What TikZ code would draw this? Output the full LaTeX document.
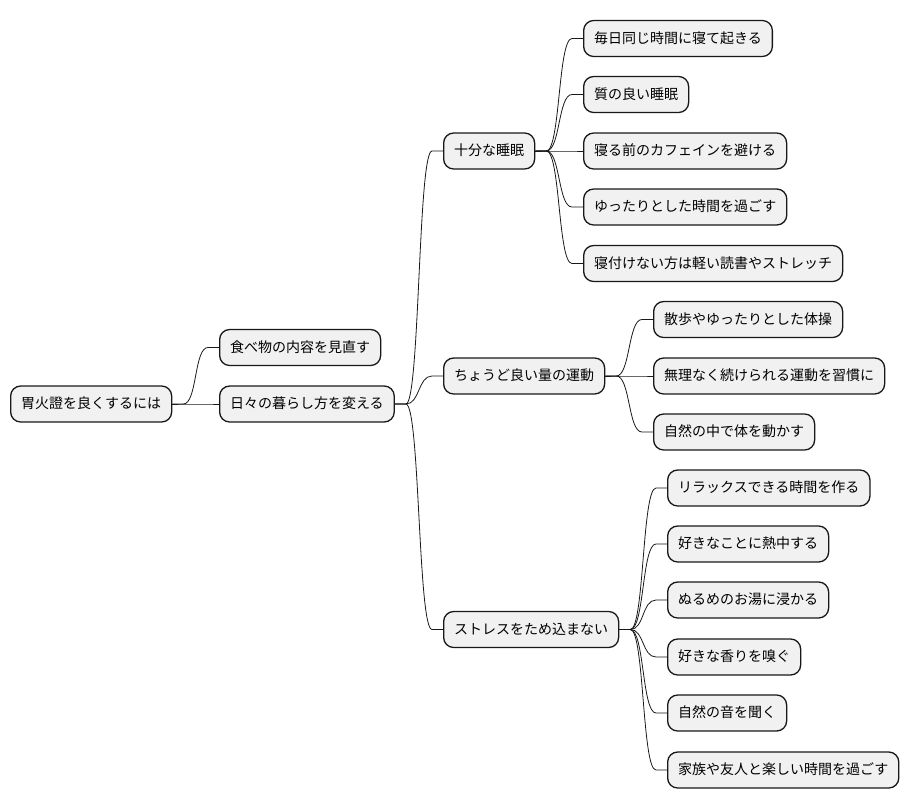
\documentclass[tikz,border=0pt]{standalone}
\usepackage{fontspec}
\usepackage{xcolor}
\usepackage{tikz}
\usetikzlibrary{calc}
\newfontfamily\jpfont{Noto Sans CJK JP}
\definecolor{boxfill}{HTML}{F1F1F1}
\definecolor{boxline}{HTML}{181818}
\tikzset{mmbox/.style={rectangle,rounded corners=10pt,draw=boxline,line width=1.3pt,fill=boxfill,
    anchor=west,minimum height=36pt,inner xsep=10.5pt,inner ysep=0pt,text height=11pt,text depth=2pt,
    font=\jpfont\fontsize{14}{16}\selectfont},
  mmline/.style={boxline,line width=0.8pt}}
\newcommand{\mmlink}[2]{%
  \draw[mmline] (#1.east) -- ++(11,0) .. controls +(14,0) and +(-14,0) .. ($(#2.west)+(-11,0)$) -- (#2.west);}

\begin{document}
\begin{tikzpicture}[x=1pt,y=-1pt]
\useasboundingbox (0,0) rectangle (908,809);
% level 0 and 1
\node[mmbox] (root) at (10,404) {胃火證を良くするには};
\node[mmbox] (food) at (219,347.5) {食べ物の内容を見直す};
\node[mmbox] (life) at (219,404) {日々の暮らし方を変える};
% level 2
\node[mmbox] (sleep) at (443,151) {十分な睡眠};
\node[mmbox] (exer) at (443,376) {ちょうど良い量の運動};
\node[mmbox] (stress) at (443,629.5) {ストレスをため込まない};
% sleep
\node[mmbox] (sl1) at (583,38.5) {毎日同じ時間に寝て起きる};
\node[mmbox] (sl2) at (583,94.5) {質の良い睡眠};
\node[mmbox] (sl3) at (583,151) {寝る前のカフェインを避ける};
\node[mmbox] (sl4) at (583,207) {ゆったりとした時間を過ごす};
\node[mmbox] (sl5) at (583,263.5) {寝付けない方は軽い読書やストレッチ};
% exercise
\node[mmbox] (ex1) at (653,319.5) {散歩やゆったりとした体操};
\node[mmbox] (ex2) at (653,376) {無理なく続けられる運動を習慣に};
\node[mmbox] (ex3) at (653,432) {自然の中で体を動かす};
% stress
\node[mmbox] (st1) at (667,488) {リラックスできる時間を作る};
\node[mmbox] (st2) at (667,544) {好きなことに熱中する};
\node[mmbox] (st3) at (667,600) {ぬるめのお湯に浸かる};
\node[mmbox] (st4) at (667,657) {好きな香りを嗅ぐ};
\node[mmbox] (st5) at (667,713) {自然の音を聞く};
\node[mmbox] (st6) at (667,770) {家族や友人と楽しい時間を過ごす};
% links
\mmlink{root}{food}
\mmlink{root}{life}
\foreach \c in {sleep,exer,stress}{\mmlink{life}{\c}}
\foreach \c in {sl1,sl2,sl3,sl4,sl5}{\mmlink{sleep}{\c}}
\foreach \c in {ex1,ex2,ex3}{\mmlink{exer}{\c}}
\foreach \c in {st1,st2,st3,st4,st5,st6}{\mmlink{stress}{\c}}
\end{tikzpicture}
\end{document}
